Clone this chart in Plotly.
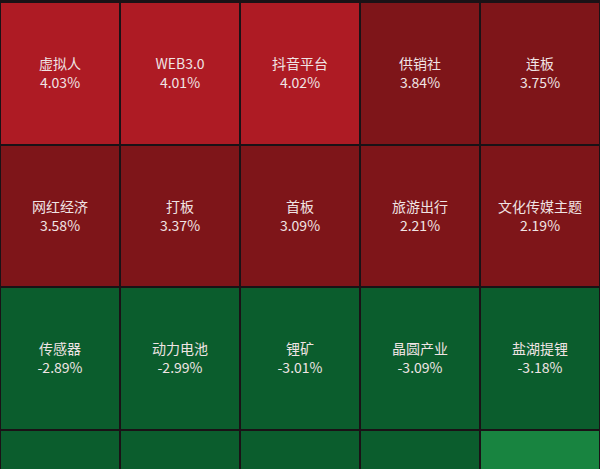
import plotly.graph_objects as go

# Data (row-major, 5 columns); last row is cut off in the reference
names = ["虚拟人", "WEB3.0", "抖音平台", "供销社", "连板",
         "网红经济", "打板", "首板", "旅游出行", "文化传媒主题",
         "传感器", "动力电池", "锂矿", "晶圆产业", "盐湖提锂"]
changes = [4.03, 4.01, 4.02, 3.84, 3.75,
           3.58, 3.37, 3.09, 2.21, 2.19,
           -2.89, -2.99, -3.01, -3.09, -3.18]
# colour class for each cell (including the 4th, cut-off row)
color_class = [0, 0, 0, 1, 1,
               1, 1, 1, 1, 1,
               2, 2, 2, 2, 2,
               2, 2, 2, 2, 3]
palette = ["#AE1B24", "#7E1519", "#0B5D2D", "#188440"]

ncols = 5
nrows = 4

z = []
for r in range(nrows):
    z.append([color_class[r * ncols + c] for c in range(ncols)])

n = len(palette)
colorscale = []
for k, col in enumerate(palette):
    colorscale.append([k / n, col])
    colorscale.append([(k + 1) / n, col])

fig = go.Figure(go.Heatmap(
    z=z,
    colorscale=colorscale,
    zmin=-0.5, zmax=n - 0.5,
    showscale=False,
    xgap=2, ygap=2,
    hoverinfo="skip",
))

xs = [i % ncols for i in range(len(names))]
ys = [i // ncols for i in range(len(names))]
font = dict(family="Noto Sans CJK SC", size=14, color="#F0E4E4")
fig.add_trace(go.Scatter(
    x=xs, y=[y - 0.056 for y in ys], text=names, mode="text",
    textfont=font, textposition="middle center", hoverinfo="skip",
    showlegend=False))
fig.add_trace(go.Scatter(
    x=xs, y=[y + 0.077 for y in ys], text=[f"{v:.2f}%" for v in changes],
    mode="text", textfont=font, textposition="middle center",
    hoverinfo="skip", showlegend=False))

fig.update_layout(
    width=600, height=469,
    margin=dict(l=0, r=0, t=0, b=0),
    paper_bgcolor="#1A1216",
    plot_bgcolor="#1A1216",
    xaxis=dict(range=[-0.5, 4.5], visible=False, fixedrange=True),
    yaxis=dict(range=[2.773, -0.514], visible=False, fixedrange=True),
    showlegend=False,
)

fig.write_html("out.html")
